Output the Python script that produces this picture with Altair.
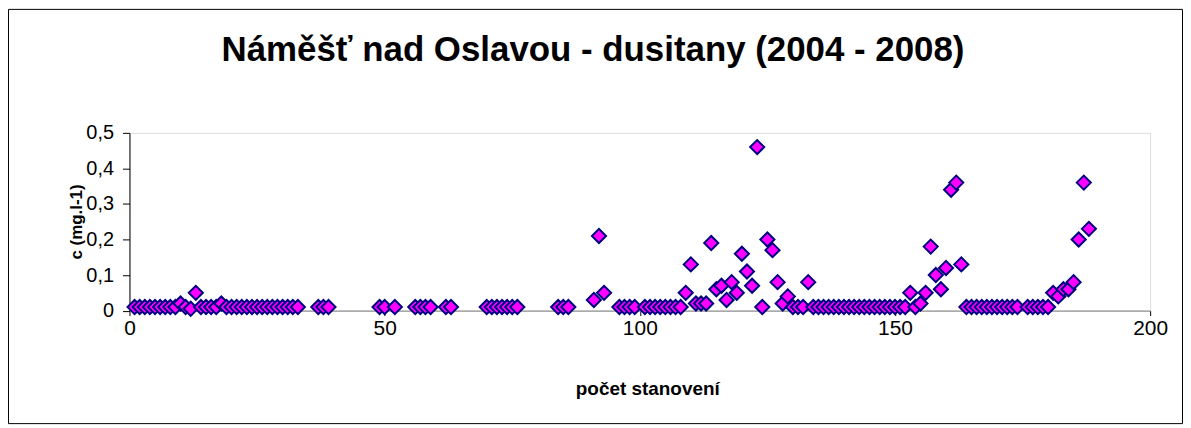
import altair as alt
import pandas as pd

# measurement number (počet stanovení)
n_values = [
    1, 2, 3, 4, 5, 6, 7, 8, 9, 10, 11, 12, 13, 14, 15, 16, 17, 18, 19, 20,
    21, 22, 23, 24, 25, 26, 27, 28, 29, 30, 31, 32, 33,
    37, 38, 39, 49, 50, 52, 56, 57, 58, 59, 62, 63,
    70, 71, 72, 73, 74, 75, 76, 84, 85, 86,
    91, 92, 93, 96, 97, 98, 99,
    101, 102, 103, 104, 105, 106, 107, 108,
    109, 110, 111, 112, 113, 114, 115, 116, 117, 118, 119, 120, 121, 122, 123,
    124, 125, 126, 127, 128, 129, 130, 131, 132, 133,
    134, 135, 136, 137, 138, 139, 140, 141, 142, 143, 144, 145, 146, 147, 148,
    149, 150, 151, 152,
    153, 154, 155, 156, 157, 158, 159, 160, 161, 162, 163,
    164, 165, 166, 167, 168, 169, 170, 171, 172, 173, 174,
    176, 177, 178, 179, 180,
    181, 182, 183, 184, 185, 186, 187, 188,
]

# concentration c (mg.l-1)
c_values = [
    0.01, 0.01, 0.01, 0.01, 0.01, 0.01, 0.01, 0.01, 0.01, 0.02, 0.01, 0.005, 0.05,
    0.01, 0.01, 0.01, 0.01, 0.02, 0.01, 0.01,
    0.01, 0.01, 0.01, 0.01, 0.01, 0.01, 0.01, 0.01, 0.01, 0.01, 0.01, 0.01, 0.01,
    0.01, 0.01, 0.01, 0.01, 0.01, 0.01, 0.01, 0.01, 0.01, 0.01, 0.01, 0.01,
    0.01, 0.01, 0.01, 0.01, 0.01, 0.01, 0.01, 0.01, 0.01, 0.01,
    0.03, 0.21, 0.05, 0.01, 0.01, 0.01, 0.01,
    0.01, 0.01, 0.01, 0.01, 0.01, 0.01, 0.01, 0.01,
    0.05, 0.13, 0.02, 0.02, 0.02, 0.19, 0.06, 0.07, 0.03, 0.08, 0.05, 0.16, 0.11, 0.07, 0.46,
    0.01, 0.20, 0.17, 0.08, 0.02, 0.04, 0.01, 0.01, 0.01, 0.08,
    0.01, 0.01, 0.01, 0.01, 0.01, 0.01, 0.01, 0.01, 0.01, 0.01, 0.01, 0.01, 0.01, 0.01, 0.01,
    0.01, 0.01, 0.01, 0.01,
    0.05, 0.01, 0.02, 0.05, 0.18, 0.10, 0.06, 0.12, 0.34, 0.36, 0.13,
    0.01, 0.01, 0.01, 0.01, 0.01, 0.01, 0.01, 0.01, 0.01, 0.01, 0.01,
    0.01, 0.01, 0.01, 0.01, 0.01,
    0.05, 0.04, 0.06, 0.06, 0.08, 0.20, 0.36, 0.23,
]

x_ticks = [0, 50, 100, 150, 200]
y_ticks = [0, 0.1, 0.2, 0.3, 0.4, 0.5]

title_text = "Náměšť nad Oslavou - dusitany (2004 - 2008)"
x_title = "počet stanovení"
y_title = "c (mg.l-1)"

assert len(n_values) == len(c_values)
df = pd.DataFrame({"n": n_values, "c": c_values})

FONT = "Liberation Sans"

frame = alt.Chart(pd.DataFrame({"k": [0]})).mark_rect(
    filled=False, stroke="#000000", strokeWidth=1
).encode(
    x=alt.value(-121.5), x2=alt.value(1057.5),
    y=alt.value(-124), y2=alt.value(292),
)

title_mark = alt.Chart(pd.DataFrame({"t": [title_text]})).mark_text(
    font=FONT, fontSize=35, fontWeight="bold", color="#000000",
    align="center", baseline="alphabetic"
).encode(
    x=alt.value(465.5), y=alt.value(-72), text="t:N"
)

points = alt.Chart(df).mark_point(
    shape="diamond", filled=True, fill="#FF00FF", stroke="#000080",
    strokeWidth=2, size=200, opacity=1
).encode(
    x=alt.X("n:Q", scale=alt.Scale(domain=[0, 200], nice=False, zero=True),
            axis=alt.Axis(values=x_ticks, title=x_title, grid=False,
                          domainColor="#808080", tickColor="#000000",
                          tickSize=5, labelPadding=2, labelFontSize=21,
                          labelFont=FONT, labelColor="#000000",
                          titleFont=FONT, titleFontSize=19, titleFontWeight="bold",
                          titleColor="#000000", titleX=520, titleY=78,
                          titleBaseline="middle", labelFlush=False)),
    y=alt.Y("c:Q", scale=alt.Scale(domain=[0, 0.5], nice=False),
            axis=alt.Axis(values=y_ticks, title=y_title, grid=False,
                          domainColor="#000000", tickColor="#000000",
                          tickSize=7, labelPadding=9, labelFontSize=20,
                          labelFont=FONT, labelColor="#000000",
                          labelExpr="datum.value == 0 ? '0' : replace(format(datum.value, '.1f'), '.', ',')",
                          titleFont=FONT, titleFontSize=17, titleFontWeight="bold",
                          titleColor="#000000", titleX=-53, titleY=89,
                          titleAngle=270, titleAlign="center", titleBaseline="middle")),
)

chart = alt.layer(frame, title_mark, points).properties(
    width=1025,
    height=178.5,
    autosize=alt.AutoSizeParams(type="none"),
    padding={"left": 122, "top": 124.5, "right": 33, "bottom": 114},
).configure_view(stroke=None).configure(background="#ffffff")

chart.save("out.html", embed_options={"renderer": "svg", "actions": False})
